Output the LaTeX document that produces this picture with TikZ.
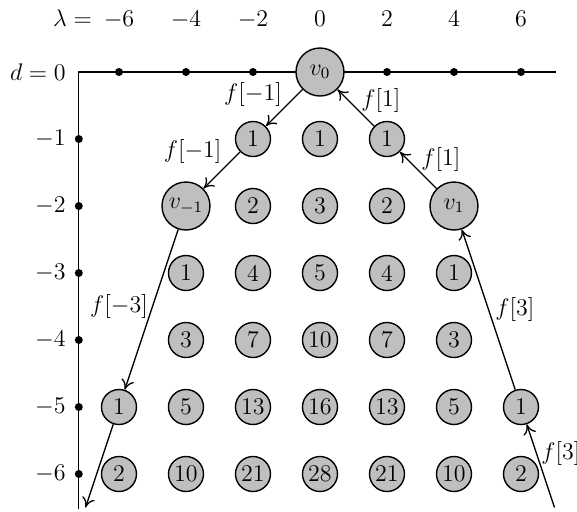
\documentclass[12pt,tikz,border=0pt]{standalone}
\usepackage{tikz}
\usetikzlibrary{arrows.meta}
\pgfdeclarelayer{edgelayer}
\pgfdeclarelayer{nodelayer}
\pgfsetlayers{edgelayer,nodelayer,main}
\tikzstyle{none}=[inner sep=0pt]
\tikzstyle{edge}=[draw=black, line width=0.65pt, -{To[length=5pt, width=6.5pt]}]
\tikzstyle{axis}=[draw=black, line width=0.65pt]
\tikzstyle{vertex}=[circle, fill=lightgray, draw=black, line width=0.7pt, minimum size=17.5pt, inner sep=0pt]
\tikzstyle{big vertex}=[circle, fill=lightgray, draw=black, line width=0.7pt, minimum size=24pt, inner sep=0pt]
\tikzstyle{dot}=[circle, fill=black, minimum size=4pt, inner sep=0pt]

\begin{document}
\begin{tikzpicture}[x=16.75pt, y=33.5pt]
			\useasboundingbox (-9.552, -6.567) rectangle (7.672, 1.0746);
			\begin{pgfonlayer}{nodelayer}
			\node [style=big vertex] (0) at (0, 0) {$v_0$};
			\node [style=vertex] (1) at (-2, -1) {1};
			\node [style=vertex] (2) at (0, -1) {1};
			\node [style=vertex] (3) at (2, -1) {1};
			\node [style=big vertex] (4) at (-4, -2) {$v_{-1}$};
			\node [style=vertex] (5) at (-2, -2) {2};
			\node [style=vertex] (6) at (0, -2) {3};
			\node [style=vertex] (7) at (2, -2) {2};
			\node [style=big vertex] (8) at (4, -2) {$v_1$};
			\node [style=vertex] (9) at (-4, -3) {1};
			\node [style=vertex] (10) at (-2, -3) {4};
			\node [style=vertex] (11) at (0, -3) {5};
			\node [style=vertex] (12) at (2, -3) {4};
			\node [style=vertex] (13) at (4, -3) {1};
			\node [style=vertex] (14) at (-4, -4) {3};
			\node [style=vertex] (15) at (-2, -4) {7};
			\node [style=vertex] (16) at (0, -4) {10};
			\node [style=vertex] (17) at (2, -4) {7};
			\node [style=vertex] (18) at (4, -4) {3};
			\node [style=vertex] (19) at (-6, -5) {1};
			\node [style=vertex] (20) at (-4, -5) {5};
			\node [style=vertex] (21) at (-2, -5) {13};
			\node [style=vertex] (22) at (0, -5) {16};
			\node [style=vertex] (23) at (2, -5) {13};
			\node [style=vertex] (24) at (4, -5) {5};
			\node [style=vertex] (25) at (6, -5) {1};
			\node [style=vertex] (26) at (-6, -6) {2};
			\node [style=vertex] (27) at (-4, -6) {10};
			\node [style=vertex] (28) at (-2, -6) {21};
			\node [style=vertex] (29) at (0, -6) {28};
			\node [style=vertex] (30) at (2, -6) {21};
			\node [style=vertex] (31) at (4, -6) {10};
			\node [style=vertex] (32) at (6, -6) {2};
			\node [style=dot] (33) at (-6, 0) {};
			\node [style=dot] (34) at (-4, 0) {};
			\node [style=dot] (35) at (-2, 0) {};
			\node [style=dot] (36) at (2, 0) {};
			\node [style=dot] (37) at (4, 0) {};
			\node [style=dot] (38) at (6, 0) {};
			\node [style=dot] (39) at (-7.2, -1) {};
			\node [style=dot] (40) at (-7.2, -2) {};
			\node [style=dot] (41) at (-7.2, -3) {};
			\node [style=dot] (42) at (-7.2, -4) {};
			\node [style=dot] (43) at (-7.2, -5) {};
			\node [style=dot] (44) at (-7.2, -6) {};
			\node [style=none] (45) at (-7.2, 0) {};
			\node [style=none] (46) at (7.04, 0) {};
			\node [style=none] (47) at (-7.2, -6.52) {};
			\node [style=none] (48) at (-7, -6.5) {};
			\node [style=none] (49) at (7, -6.5) {};
			\node [style=none, anchor=base east] (50) at (-6.8, 0.672) {$\lambda=$};
			\node [style=none, anchor=base] (51) at (-6, 0.672) {$-6$};
			\node [style=none, anchor=base] (52) at (-4, 0.672) {$-4$};
			\node [style=none, anchor=base] (53) at (-2, 0.672) {$-2$};
			\node [style=none, anchor=base] (54) at (0, 0.672) {$0$};
			\node [style=none, anchor=base] (55) at (2, 0.672) {$2$};
			\node [style=none, anchor=base] (56) at (4, 0.672) {$4$};
			\node [style=none, anchor=base] (57) at (6, 0.672) {$6$};
			\node [style=none, anchor=east] (58) at (-7.58, 0) {$d=0$};
			\node [style=none, anchor=east] (59) at (-7.58, -1) {$-1$};
			\node [style=none, anchor=east] (60) at (-7.58, -2) {$-2$};
			\node [style=none, anchor=east] (61) at (-7.58, -3) {$-3$};
			\node [style=none, anchor=east] (62) at (-7.58, -4) {$-4$};
			\node [style=none, anchor=east] (63) at (-7.58, -5) {$-5$};
			\node [style=none, anchor=east] (64) at (-7.58, -6) {$-6$};
			\node [style=none] (65) at (-2, -0.33) {$f[-1]$};
			\node [style=none] (66) at (-3.8, -1.19) {$f[-1]$};
			\node [style=none] (67) at (1.82, -0.42) {$f[1]$};
			\node [style=none] (68) at (3.61, -1.3) {$f[1]$};
			\node [style=none] (69) at (-6, -3.5) {$f[-3]$};
			\node [style=none] (70) at (5.82, -3.54) {$f[3]$};
			\node [style=none] (71) at (7.19, -5.69) {$f[3]$};
			\end{pgfonlayer}
			\begin{pgfonlayer}{edgelayer}
			\draw [style=axis] (46.center) to (45.center) to (47.center);
			\draw [style=edge] (0) to (1);
			\draw [style=edge] (1) to (4);
			\draw [style=edge] (4) to (19);
			\draw [style=edge] (19) to (48.center);
			\draw [style=edge] (3) to (0);
			\draw [style=edge] (8) to (3);
			\draw [style=edge] (25) to (8);
			\draw [style=edge] (49.center) to (25);
			\end{pgfonlayer}
\end{tikzpicture}
\end{document}
